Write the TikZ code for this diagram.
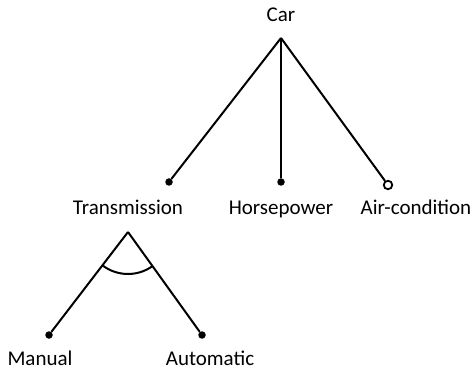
\documentclass[tikz,border=0pt]{standalone}
\usepackage{fontspec}
\setmainfont{Carlito}
\tikzset{
    label/.style={inner sep=0pt, anchor=base, text depth=0pt, font=\fontsize{21}{25}\selectfont},
    dot/.style={circle, fill=black, inner sep=0pt, minimum size=7.5pt},
    odot/.style={circle, draw=black, fill=white, line width=1.8pt, inner sep=0pt, minimum size=8.5pt},
    edge/.style={-, draw=black, line width=2pt},
}

\begin{document}
\begin{tikzpicture}[x=1pt, y=-1pt]
    \useasboundingbox (0,0) rectangle (475,369);
    \node[label] (car) at (281, 22) {Car};
    \coordinate (top) at (281, 38);
    \node[dot] (d1) at (169, 182) {};
    \node[dot] (d2) at (281, 182) {};
    \node[odot] (d3) at (388, 185) {};
    \node[label] (trans) at (128, 214.5) {Transmission};
    \node[label] (hp) at (281, 214.5) {Horsepower};
    \node[label] (ac) at (416, 214.5) {Air-condition};
    \coordinate (sub) at (128, 232);
    \node[dot] (d4) at (49, 335) {};
    \node[dot] (d5) at (202, 335) {};
    \node[label] (man) at (40, 365.5) {Manual};
    \node[label] (auto) at (210, 365.5) {Automatic};
    \draw[edge] (top) -- (d1);
    \draw[edge] (top) -- (d2);
    \draw[edge] (top) -- (d3);
    \draw[edge] (sub) -- (d4);
    \draw[edge] (sub) -- (d5);
    \draw[edge] (sub) ++(127.5:42) arc[start angle=127.5, end angle=54.3, radius=42];
\end{tikzpicture}
\end{document}
